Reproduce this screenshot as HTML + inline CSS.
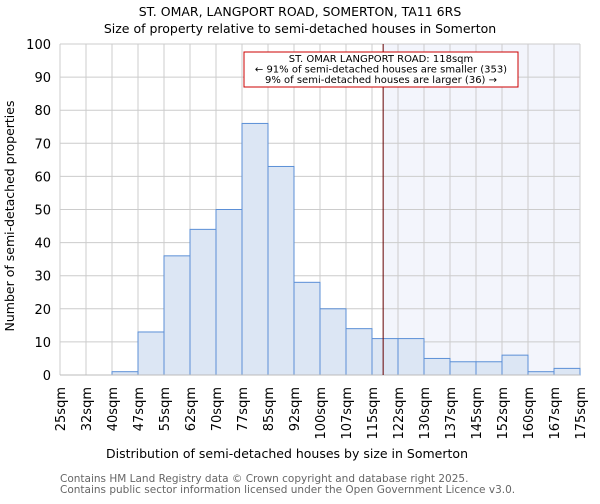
<!DOCTYPE html>
<html><head><meta charset="utf-8"><style>
body{margin:0;background:#fff;font-family:"DejaVu Sans","Liberation Sans",sans-serif}
svg text{font-family:"DejaVu Sans","Liberation Sans",sans-serif}
</style></head><body>
<svg id="c" width="600" height="500" viewBox="0 0 600 500">
<text x="300" y="16" text-anchor="middle" font-size="12.5">ST. OMAR, LANGPORT ROAD, SOMERTON, TA11 6RS</text>
<text x="300" y="33" text-anchor="middle" font-size="12.5">Size of property relative to semi-detached houses in Somerton</text>
<text x="287" y="458" text-anchor="middle" font-size="12.5">Distribution of semi-detached houses by size in Somerton</text>
<text transform="translate(14,216) rotate(-90)" text-anchor="middle" font-size="12.5">Number of semi-detached properties</text>
<text x="60" y="482" font-size="10.5" fill="#666">Contains HM Land Registry data © Crown copyright and database right 2025.</text>
<text x="60" y="493" font-size="10.5" fill="#666">Contains public sector information licensed under the Open Government Licence v3.0.</text>
<g id="g"></g>
</svg>
<script>
const binEdges=[25,32,40,47,55,62,70,77,85,92,100,107,115,122,130,137,145,152,160,167,175];
const tickLabels=["25sqm","32sqm","40sqm","47sqm","55sqm","62sqm","70sqm","77sqm","85sqm","92sqm","100sqm","107sqm","115sqm","122sqm","130sqm","137sqm","145sqm","152sqm","160sqm","167sqm","175sqm"];
const counts=[0,0,1,13,36,44,50,76,63,28,20,14,11,11,5,4,4,6,1,2];
const yTicks=[0,10,20,30,40,50,60,70,80,90,100];
const propertySize=118;
const NS="http://www.w3.org/2000/svg";
const g=document.getElementById('g');
const L=60,R=580,T=44,B=375,ymax=100;
const nb=counts.length;
function xi(i){return L+(R-L)*i/nb;}
function xv(v){let i=0;while(i<nb-1&&v>binEdges[i+1])i++;return xi(i)+(v-binEdges[i])/(binEdges[i+1]-binEdges[i])*(R-L)/nb;}
function y(v){return B-(B-T)*v/ymax;}
function mk(t,a){const e=document.createElementNS(NS,t);for(const k in a)e.setAttribute(k,a[k]);g.appendChild(e);return e;}
const px=xv(propertySize);
let e=mk('rect',{x:px,y:T,width:R-px,height:B-T,fill:'#f3f5fc'});


yTicks.forEach(v=>{
 let l=mk('line',{x1:L,x2:R,y1:y(v),y2:y(v),stroke:'#ccc','stroke-width':1});
 
 
 let t=mk('text',{x:L-9,y:y(v)+5,'text-anchor':'end','font-size':13});
 t.textContent=v;
 
 
});
binEdges.forEach((b,i)=>{
 let l=mk('line',{x1:xi(i),x2:xi(i),y1:T,y2:B,stroke:'#ccc','stroke-width':1});
 
 
 let t=mk('text',{transform:`translate(${xi(i)+5},${B+12}) rotate(-90)`,'text-anchor':'end','font-size':13});
 t.textContent=tickLabels[i];
 
 
});
counts.forEach((c,i)=>{
 if(c<=0)return;
 let r=mk('rect',{x:xi(i),y:y(c),width:xi(i+1)-xi(i),height:B-y(c),fill:'#dce6f4',stroke:'#5b8fd6','stroke-width':1});
 
 
});
let ax=mk('line',{x1:L,x2:R,y1:B,y2:B,stroke:'#bbb'});


let m=mk('line',{x1:px,x2:px,y1:T,y2:B,stroke:'#600','stroke-width':1});


let box=mk('rect',{x:244,y:52,width:274,height:35,fill:'#fff',stroke:'#c00','stroke-width':1});


const ann=["ST. OMAR LANGPORT ROAD: 118sqm","← 91% of semi-detached houses are smaller (353)","9% of semi-detached houses are larger (36) →"];
ann.forEach((s,i)=>{
 let t=mk('text',{x:381,y:62+i*10.5,'text-anchor':'middle','font-size':10});
 t.textContent=s;
 
 
});
</script>
</body></html>
